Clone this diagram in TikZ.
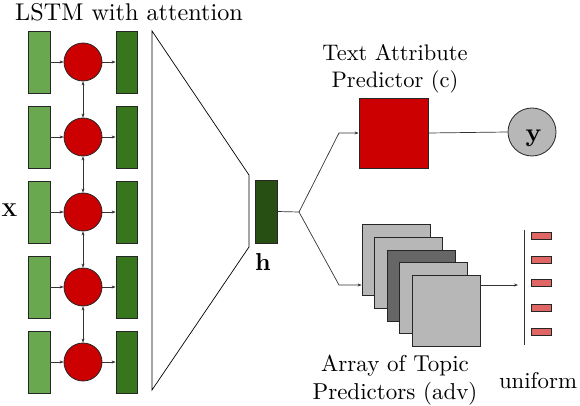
\documentclass[tikz,border=0pt]{standalone}
\usetikzlibrary{arrows.meta}
\definecolor{lgreen}{HTML}{6AA84F}
\definecolor{dgreen}{HTML}{38761D}
\definecolor{hgreen}{HTML}{274E13}
\definecolor{rred}{HTML}{CC0000}
\definecolor{lgray}{HTML}{B7B7B7}
\definecolor{dgray}{HTML}{666666}
\definecolor{pink}{HTML}{E06666}
\newcommand{\bt}[2]{\scalebox{#1}{\begin{tabular}{@{}c@{}}#2\end{tabular}}}
\begin{document}
\begin{tikzpicture}[x=1pt,y=-1pt,
  box/.style={draw=black!85,line width=0.8pt,inner sep=0pt,minimum width=22pt,minimum height=62pt},
  inbox/.style={box,fill=lgreen},
  outbox/.style={box,fill=dgreen,minimum width=21pt},
  cell/.style={circle,draw=black!85,line width=0.8pt,fill=rred,minimum size=38pt,inner sep=0pt},
  sq/.style={draw=black!85,line width=0.8pt,fill=lgray,minimum width=68pt,minimum height=71pt,inner sep=0pt},
  conn/.style={draw=black!80,line width=0.7pt},
  arr/.style={conn,-{Stealth[length=4pt,width=3pt]}},
  darr/.style={conn,{Stealth[length=4pt,width=3pt]}-{Stealth[length=4pt,width=3pt]}},
  uni/.style={draw=black!85,line width=0.7pt,fill=pink,minimum width=20pt,minimum height=7pt,inner sep=0pt},
  lbl/.style={inner sep=0pt}]
\useasboundingbox (0,0) rectangle (580,406);
% LSTM rows
\foreach \i/\yy in {1/62,2/137,3/212,4/287,5/362}{
  \node[inbox] (l\i) at (39,\yy) {};
  \node[cell] (c\i) at (83,\yy) {};
  \node[outbox] (d\i) at (126.5,\yy) {};
  \draw[arr] (l\i.east) -- (c\i.west);
  \draw[arr] (c\i.east) -- (d\i.west);
}
\foreach \i/\j in {1/2,2/3,3/4,4/5}{
  \draw[darr] (c\i.south) -- (c\j.north);
}
\node[lbl] (title) at (129,15) {\bt{2.42}{LSTM with attention}};
\node[lbl] (xlab) at (9.5,212) {\bt{1.85}{\textbf{X}}};
% trapezoid
\draw[line width=0.7pt] (152,31) -- (249,175) -- (249,247) -- (152,390) -- cycle;
% h
\node[box,fill=hgreen,minimum height=63pt] (h) at (266,211.5) {};
\node[lbl] (hlab) at (263,265) {\bt{2.45}{\textbf{h}}};
\coordinate (br) at (299,212);
\draw[conn] (h.east) -- (br);
% text attribute predictor
\node[draw=black!85,line width=0.8pt,fill=rred,minimum width=69pt,minimum height=70pt,inner sep=0pt] (red) at (393.5,133) {};
\coordinate (tk) at (339,133);
\draw[arr] (br) -- (tk) -- (red.west);
\node[circle,draw=black!85,line width=0.8pt,fill=lgray,minimum size=48pt,inner sep=0pt] (yc) at (532,132) {};
\node[lbl] (ylab) at (533.5,135) {\bt{2.6}{\textbf{y}}};
\draw[conn] (red.east) -- (yc.west);
\node[lbl] (talab) at (395,69) {\bt{2.25}{Text Attribute\\Predictor (c)}};
% topic predictors
\node[sq] (s1) at (396,259.5) {};
\node[sq] (s2) at (408.5,272.5) {};
\node[sq,fill=dgray] (s3) at (421.5,285.5) {};
\node[sq] (s4) at (433.5,298) {};
\node[sq] (s5) at (446,310.5) {};
\coordinate (bk) at (339,285);
\draw[arr] (br) -- (bk) -- (bk -| s1.west);
\coordinate (ua) at (518,285);
\draw[arr] (s5.east |- ua) -- (ua);
\coordinate (vt) at (524,230);
\coordinate (vb) at (524,345);
\draw[conn] (vt) -- (vb);
\foreach \k/\yy in {1/236,2/260,3/283,4/308,5/332}{
  \node[uni] (u\k) at (541,\yy) {};
}
\node[lbl] (arlab) at (395,380) {\bt{2.3}{Array of Topic\\Predictors (adv)}};
\node[lbl] (unilab) at (538,383) {\bt{2.28}{uniform}};
\end{tikzpicture}
\end{document}
